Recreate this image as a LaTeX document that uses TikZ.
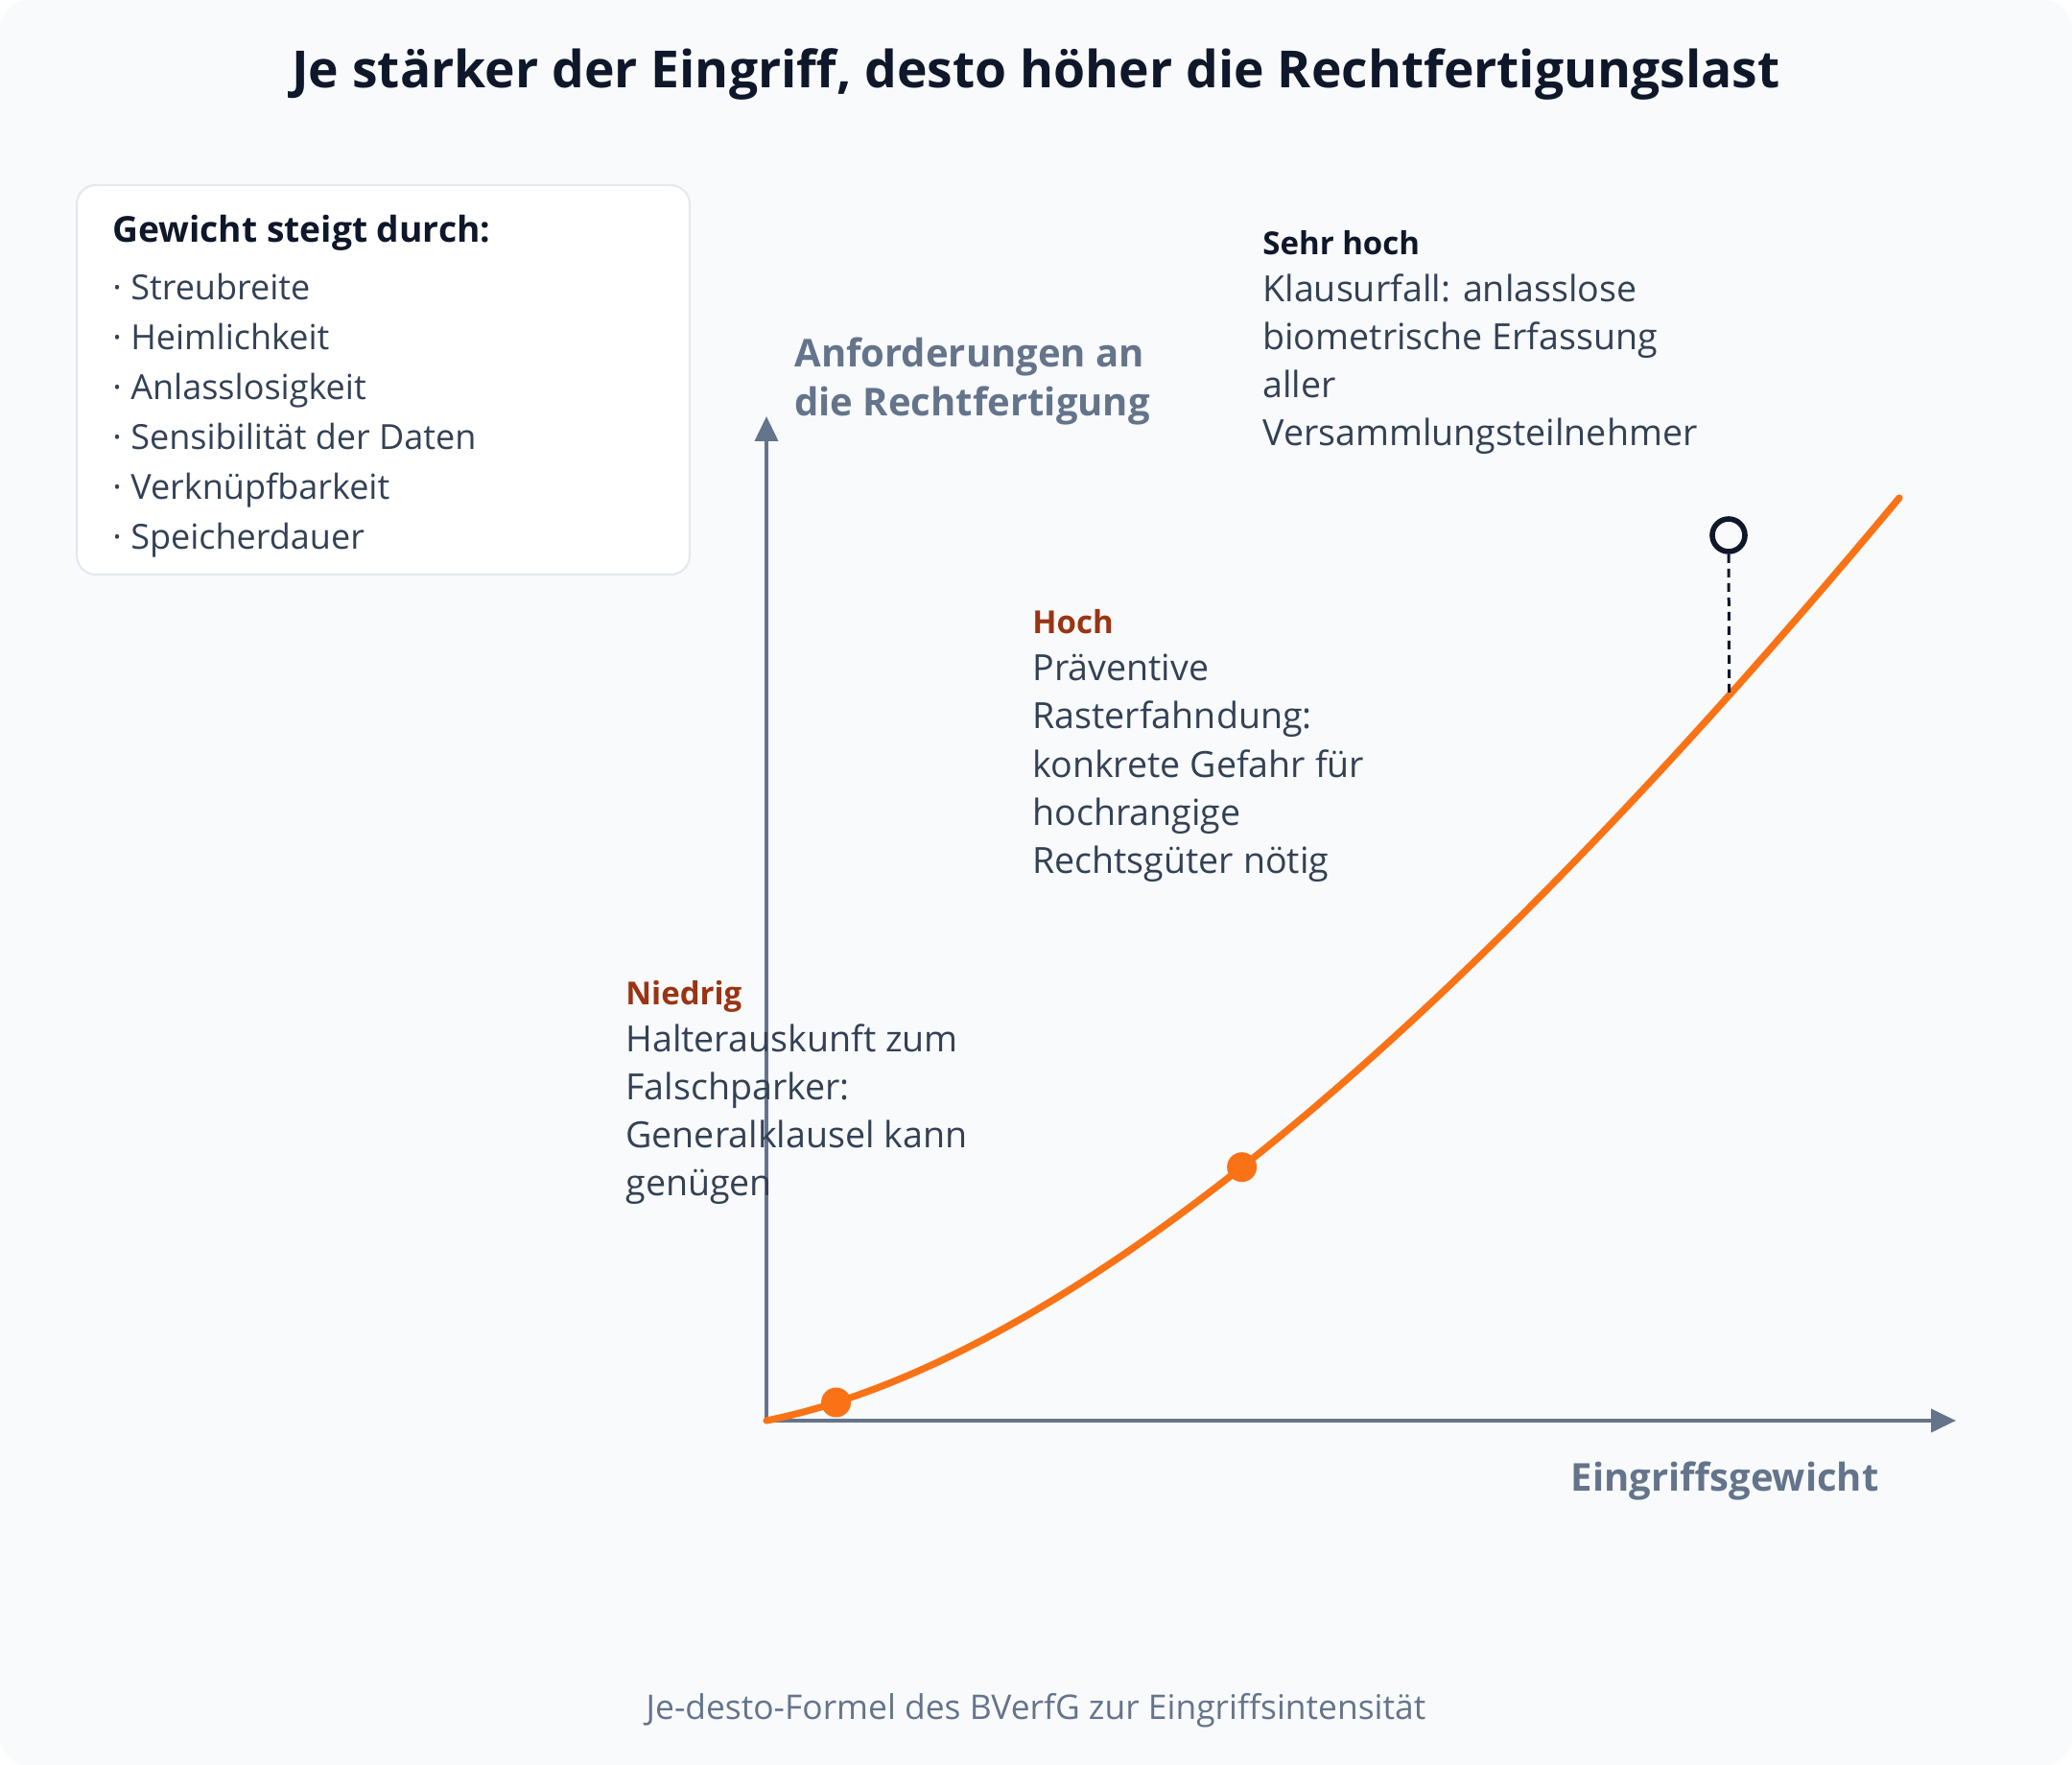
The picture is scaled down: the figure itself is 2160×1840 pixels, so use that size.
\documentclass[tikz,border=0pt]{standalone}
\usepackage{fontspec}
\setmainfont{Open Sans}
\usetikzlibrary{arrows.meta,positioning}
\definecolor{bgcol}{HTML}{F8FAFC}
\definecolor{framecol}{HTML}{E2E8F0}
\definecolor{darkcol}{HTML}{0F172A}
\definecolor{textcol}{HTML}{334155}
\definecolor{axiscol}{HTML}{64748B}
\definecolor{curvecol}{HTML}{F97316}
\definecolor{levelcol}{HTML}{9A3412}

\begin{document}
\begin{tikzpicture}[x=0.5pt,y=-0.5pt,
    axis/.style={line width=2pt,axiscol,-{Triangle[length=13pt,width=12pt]}},
    curve/.style={line width=3.6pt,curvecol,line cap=round},
    dot/.style={circle,fill=curvecol,inner sep=0pt,minimum size=15.5pt},
    desc/.style={anchor=base west,inner sep=0pt,text=textcol,font=\fontsize{18.8}{22}\selectfont},
    level/.style={anchor=base west,inner sep=0pt,text=levelcol,font=\fontsize{16.5}{20}\selectfont\bfseries},
    axlabel/.style={inner sep=0pt,text=axiscol,font=\fontsize{20}{25.5}\selectfont\bfseries},
    item/.style={anchor=base west,inner sep=0pt,text=textcol,font=\fontsize{18}{21}\selectfont}]

    % background
    \fill[white] (0,0) rectangle (2160,1840);
    \fill[bgcol,rounded corners=15pt] (0,0) rectangle (2160,1840);
    \useasboundingbox (0,0) rectangle (2160,1840);

    \node[text=darkcol,font=\fontsize{26.7}{33}\selectfont\bfseries] (title) at (1080,77)
        {Je stärker der Eingriff, desto höher die Rechtfertigungslast};

    % list box
    \draw[framecol,fill=white,line width=1pt,rounded corners=10pt] (80,193) rectangle (719,599);
    \node[item,text=darkcol,font=\fontsize{18.6}{22}\selectfont\bfseries] (boxhead) at (117,253) {Gewicht steigt durch:};
    \foreach \txt [count=\i] in {Streubreite,Heimlichkeit,Anlasslosigkeit,Sensibilität der Daten,Verknüpfbarkeit,Speicherdauer}
        \node[item] (item\i) at (117,{261+52*\i}) {·\ \txt};

    % axes
    \coordinate (origin) at (799,1481);
    \coordinate (xend) at (2039,1481);
    \coordinate (yend) at (799,434);
    \draw[axis] (origin) -- (xend);
    \draw[axis] (origin) -- (yend);
    \node[axlabel,anchor=west,align=left] (ylab) at (828,398) {Anforderungen an\\die Rechtfertigung};
    \node[axlabel,anchor=east] (xlab) at (1959,1544) {Eingriffsgewicht};

    % curve
    \draw[curve] (origin) .. controls (1102,1420) and (1496,1100) .. (1980,519)
        node[dot,pos=0.078] (dotlow) {}
        node[dot,pos=0.477] (dotmid) {}
        coordinate[pos=0.875] (peakfoot);
    \node[circle,draw=darkcol,fill=bgcol,line width=2.8pt,minimum size=17pt,inner sep=0pt] (peak) at (1802,558) {};
    \draw[darkcol,line width=1.5pt,dash pattern=on 4.5pt off 3pt] (peak.south) -- (peakfoot);

    % levels
    \node[level,text=darkcol] (sehrhoch) at (1316,266) {Sehr hoch};
    \foreach \txt [count=\i] in {Klausurfall: anlasslose,biometrische Erfassung,aller,Versammlungsteilnehmer}
        \node[desc] (sehr\i) at (1316,{265+50*\i}) {\txt};

    \node[level] (hoch) at (1076,661) {Hoch};
    \foreach \txt [count=\i] in {Präventive,Rasterfahndung:,konkrete Gefahr für,hochrangige,Rechtsgüter nötig}
        \node[desc] (hoch\i) at (1076,{660+50*\i}) {\txt};

    \node[level] (niedrig) at (652,1047) {Niedrig};
    \foreach \txt [count=\i] in {Halterauskunft zum,Falschparker:,Generalklausel kann,genügen}
        \node[desc] (nied\i) at (652,{1046+50*\i}) {\txt};

    \node[text=axiscol,font=\fontsize{17.7}{21}\selectfont] (caption) at (1080,1783)
        {Je-desto-Formel des BVerfG zur Eingriffsintensität};
\end{tikzpicture}
\end{document}
